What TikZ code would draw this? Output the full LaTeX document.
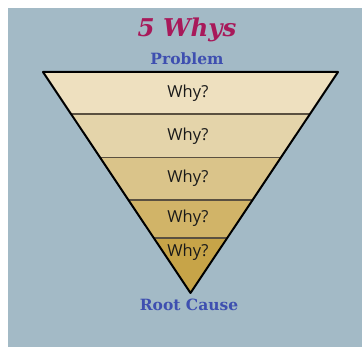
\documentclass[tikz,border=0pt]{standalone}
\usepackage{fontspec}
\setmainfont{DejaVu Serif}
\newfontfamily\whyfont{Open Sans}
\usetikzlibrary{calc}
\definecolor{bgc}{HTML}{A3BAC6}
\definecolor{titlec}{HTML}{A8195A}
\definecolor{labc}{HTML}{3E4FB0}
\definecolor{bandA}{HTML}{EEE0BF}
\definecolor{bandB}{HTML}{E4D4AA}
\definecolor{bandC}{HTML}{DAC48A}
\definecolor{bandD}{HTML}{D1B468}
\definecolor{bandE}{HTML}{C7A448}
\definecolor{divc}{HTML}{5A5040}
\tikzset{
  whytext/.style={font=\whyfont\fontsize{16.5}{19}\selectfont, text=black!90, inner sep=0pt},
  labtext/.style={font=\bfseries\fontsize{15.5}{18}\selectfont, text=labc, inner sep=0pt},
  divider/.style={draw=divc, line width=1.1pt},
}
\begin{document}
\begin{tikzpicture}[x=1pt,y=-1pt]
\useasboundingbox (0,0) rectangle (362,347);
\fill[bgc] (8,8) rectangle (362,347);
\coordinate (A) at (43,72);
\coordinate (B) at (338,72);
\coordinate (C) at (190.5,293);
% band boundary points
\foreach \n/\t in {1/0.190,2/0.385,3/0.579,4/0.751}{
  \coordinate (L\n) at ($(A)!\t!(C)$);
  \coordinate (R\n) at ($(B)!\t!(C)$);
}
\fill[bandA] (A) -- (B) -- (R1) -- (L1) -- cycle;
\fill[bandB] (L1) -- (R1) -- (R2) -- (L2) -- cycle;
\fill[bandC] (L2) -- (R2) -- (R3) -- (L3) -- cycle;
\fill[bandD] (L3) -- (R3) -- (R4) -- (L4) -- cycle;
\fill[bandE] (L4) -- (R4) -- (C) -- cycle;
\foreach \n in {1,2,3,4}{ \draw[divider] (L\n) -- (R\n); }
\draw[line width=2pt, line join=round] (A) -- (B) -- (C) -- cycle;
\node[whytext] (w1) at (188,93) {Why?};
\node[whytext] (w2) at (188,136) {Why?};
\node[whytext] (w3) at (188,178.5) {Why?};
\node[whytext] (w4) at (188,218.5) {Why?};
\node[whytext] (w5) at (188,252) {Why?};
\node[font=\bfseries\itshape\fontsize{24.5}{29}\selectfont, text=titlec, inner sep=0pt] (title) at (187,30) {5 Whys};
\node[labtext] (prob) at (187,59) {Problem};
\node[labtext] (root) at (189,305) {Root Cause};
\end{tikzpicture}
\end{document}
